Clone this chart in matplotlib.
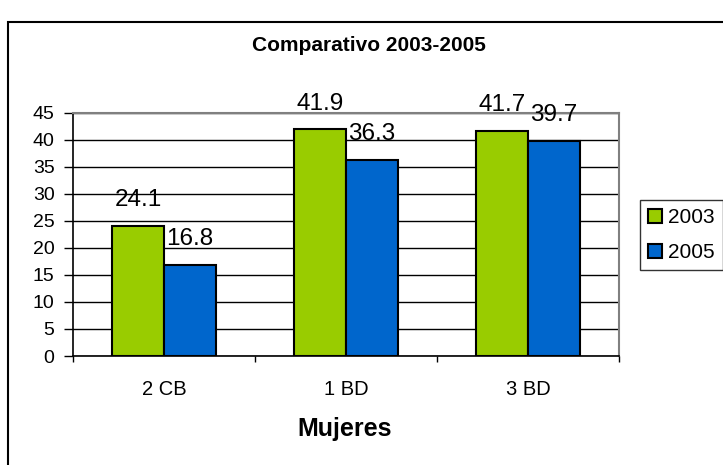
import matplotlib
matplotlib.use("Agg")
import matplotlib.pyplot as plt
from matplotlib.patches import Rectangle
import numpy as np

plt.rcParams['font.family'] = ['Liberation Sans', 'DejaVu Sans']

categories = ["2 CB", "1 BD", "3 BD"]
series_names = ["2003", "2005"]
values_2003 = [24.1, 41.9, 41.7]
values_2005 = [16.8, 36.3, 39.7]
colors = ["#99CC00", "#0066CC"]

W, H = 723, 465
fig = plt.figure(figsize=(W / 100, H / 100), dpi=100)
fig.patch.set_facecolor("white")

ax = fig.add_axes([73 / W, 1 - 356 / H, (619 - 73) / W, (356 - 112.7) / H])

x = np.arange(len(categories))
bw = 1 / 3.5
for i, (vals, name, c) in enumerate(zip([values_2003, values_2005], series_names, colors)):
    pos = x - bw / 2 + i * bw
    ax.bar(pos, vals, width=bw, color=c, edgecolor="black", linewidth=1.5,
           label=name, zorder=3)
    for px, v in zip(pos, vals):
        ax.annotate(f"{v}", (px, v), xytext=(0, 14.3), textcoords="offset points",
                    ha="center", va="baseline", fontsize=17.5, annotation_clip=False,
                    zorder=4)

ax.set_xlim(-0.5, len(categories) - 0.5)
ax.set_ylim(0, 45)
ax.set_yticks(range(0, 46, 5))
ax.yaxis.grid(True, color="black", linewidth=1, zorder=0)
ax.set_axisbelow(True)

ax.set_xticks(x)
ax.set_xticklabels(categories, fontsize=14.5)
ax.set_xticks(np.arange(-0.5, len(categories), 1), minor=True)
ax.tick_params(axis="x", which="major", length=0, pad=17)
ax.tick_params(axis="x", which="minor", length=4.5, width=1, color="black", direction="out")
ax.tick_params(axis="y", length=6.3, width=1, pad=7, labelsize=14, direction="out")

for s in ["left", "bottom"]:
    ax.spines[s].set_color("black")
    ax.spines[s].set_linewidth(1.2)
for s in ["top", "right"]:
    ax.spines[s].set_color("#808080")
    ax.spines[s].set_linewidth(1.5)

fig.text(369 / W, 1 - 50.7 / H, "Comparativo 2003-2005", ha="center", va="baseline",
         fontsize=15, fontweight="bold")
fig.text(345 / W, 1 - 436 / H, "Mujeres", ha="center", va="baseline",
         fontsize=18, fontweight="bold")

leg = ax.legend(loc="upper left", bbox_to_anchor=(640 / W, 1 - 200 / H),
                bbox_transform=fig.transFigure, fontsize=15, frameon=True,
                fancybox=False, edgecolor="black", handlelength=0.65, handleheight=0.65,
                handletextpad=0.3, borderpad=0.4, labelspacing=0.75, borderaxespad=0)
leg.get_frame().set_linewidth(1)
for h in leg.legend_handles:
    h.set_linewidth(1.5)

fig.add_artist(Rectangle((8 / W, -0.1), 1.2, 1.1 - 22 / H, transform=fig.transFigure,
                         fill=False, edgecolor="black", linewidth=1.5))

fig.savefig("out.png", dpi=100)
